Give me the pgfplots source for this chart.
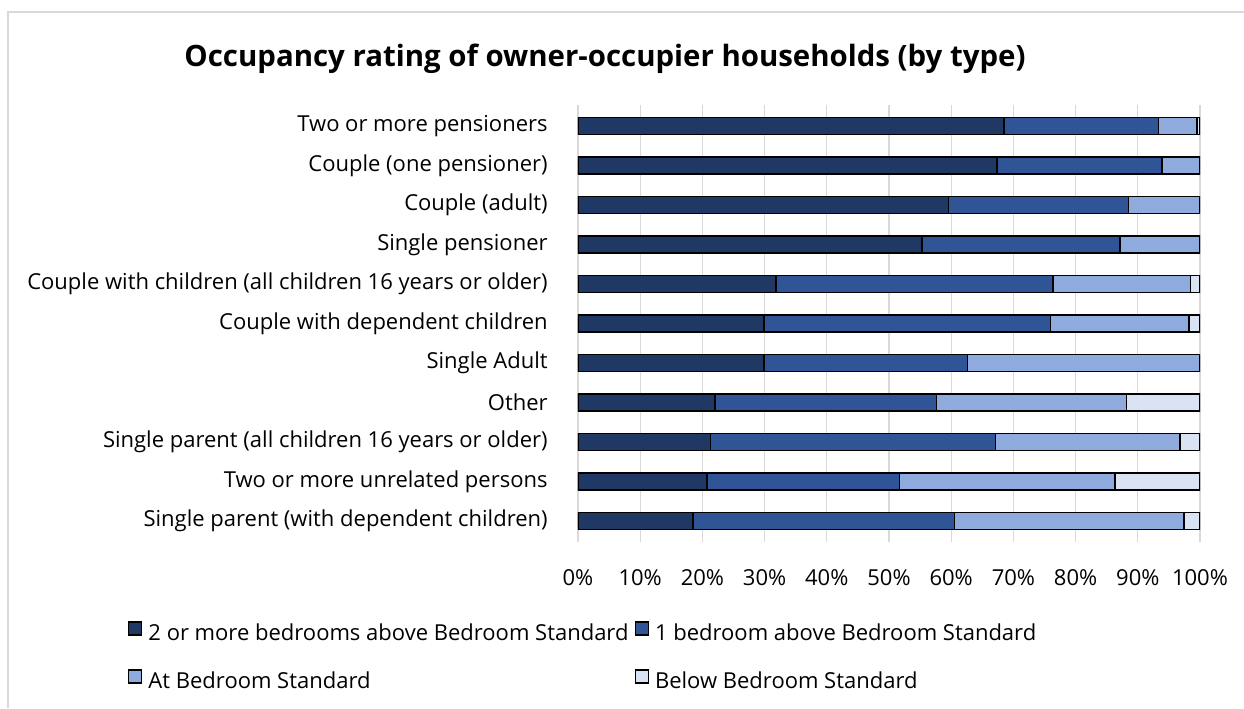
\documentclass[border=0pt]{standalone}
\usepackage{pgfplots}
\pgfplotsset{compat=1.18}
\usepackage{fontspec}
\setmainfont{Open Sans}
\definecolor{cA}{HTML}{203864}
\definecolor{cB}{HTML}{2F5597}
\definecolor{cC}{HTML}{8FAADC}
\definecolor{cD}{HTML}{DAE3F3}
\definecolor{gridc}{HTML}{D9D9D9}
\begin{document}
\begin{tikzpicture}
\useasboundingbox (0pt,0pt) rectangle (622pt,-354pt);
\draw[gridc, line width=0.8pt] (4pt,-354pt) -- (4pt,-6pt) -- (622pt,-6pt);
\node[font=\fontsize{14.7}{17}\selectfont\bfseries, anchor=base] at (302.5pt,-33pt) {Occupancy rating of owner-occupier households (by type)};
\begin{axis}[
  at={(289pt,-271pt)}, anchor=south west,
  scale only axis, width=311pt, height=218.5pt,
  xbar stacked, bar width=8.5pt,
  xmin=0, xmax=100, ymin=-0.53, ymax=10.53,
  xtick={0,10,...,100},
  xticklabel={\pgfmathprintnumber{\tick}\%},
  /pgf/number format/assume math mode=true,
  ytick={0,...,10},
  yticklabels={Single parent (with dependent children),Two or more unrelated persons,Single parent (all children 16 years or older),Other,Single Adult,Couple with dependent children,Couple with children (all children 16 years or older),Single pensioner,Couple (adult),Couple (one pensioner),Two or more pensioners},
  axis line style={draw=none},
  major tick length=0pt,
  xmajorgrids, grid style={draw=gridc, line width=0.6pt},
  tick label style={font=\fontsize{11}{13}\selectfont},
  yticklabel style={anchor=east, inner sep=0pt, xshift=-15pt},
  xticklabel style={anchor=north, inner sep=0pt, yshift=-13.5pt},
  every axis plot/.append style={draw=black, line width=0.75pt},
  legend columns=2,
  legend style={draw=none, fill=none, inner sep=0pt, outer sep=0pt,
    anchor=north west, at={(-0.7235,-0.181)},
    font=\fontsize{11}{13}\selectfont,
    nodes={inner sep=0pt, text height=8pt, text depth=2.5pt},
    column sep=3pt, row sep=12pt},
  legend cell align=left,
  legend image code/.code={\draw[#1, draw=black, line width=0.75pt] (0pt,0pt) rectangle (6.5pt,6.5pt);},
]
\addplot[fill=cA] coordinates {(18.5,0) (20.7,1) (21.3,2) (22.0,3) (29.9,4) (29.9,5) (31.8,6) (55.3,7) (59.6,8) (67.4,9) (68.5,10)};
\addplot[fill=cB] coordinates {(42.0,0) (31.0,1) (45.8,2) (35.6,3) (32.7,4) (46.1,5) (44.6,6) (31.8,7) (28.9,8) (26.5,9) (24.8,10)};
\addplot[fill=cC] coordinates {(36.9,0) (34.6,1) (29.7,2) (30.6,3) (37.4,4) (22.2,5) (22.1,6) (12.9,7) (11.5,8) (6.1,9) (6.2,10)};
\addplot[fill=cD] coordinates {(2.6,0) (13.7,1) (3.2,2) (11.8,3) (0,4) (1.8,5) (1.5,6) (0,7) (0,8) (0,9) (0.5,10)};
\legend{2 or more bedrooms above Bedroom Standard,1 bedroom above Bedroom Standard,At Bedroom Standard,Below Bedroom Standard}
\end{axis}
\end{tikzpicture}
\end{document}
